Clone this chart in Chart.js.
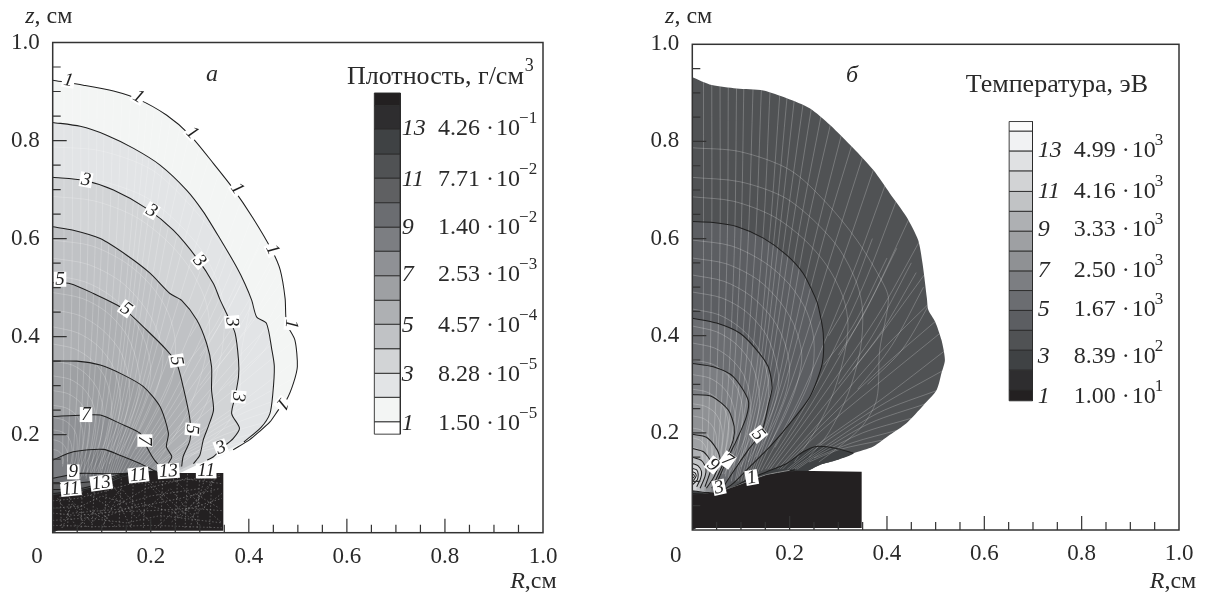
<!DOCTYPE html>
<html>
<head>
<meta charset="utf-8">
<title>Плотность и температура</title>
<script src="https://cdn.jsdelivr.net/npm/chart.js@4/dist/chart.umd.min.js"></script>
<style>
    html,body{margin:0;padding:0;background:#fff;overflow:hidden;}
    canvas{position:absolute;top:0;}
    #densityChart{left:0;}
    #temperatureChart{left:604px;}
</style>
</head>
<body>
<canvas id="densityChart" width="604" height="597"></canvas>
<canvas id="temperatureChart" width="604" height="597"></canvas>
<script>
// axis ticks
const majorTicks=[0.2,0.4,0.6,0.8];
const minorTicks=[0.05,0.1,0.15,0.25,0.3,0.35,0.45,0.5,0.55,0.65,0.7,0.75,0.85,0.9,0.95];

// ------------------------ density contours (R, z) ------------------------
const densityContour1=[[0,.923],[.0625,.913],[.124,.901],[.175,.884],[.232,.852],[.28,.811],[.328,.753],[.368,.702],[.409,.641],[.447,.576],[.464,.536],[.474,.478],[.477,.427],[.494,.393],[.499,.339],[.491,.305],[.477,.271],[.46,.25],[.443,.226],[.42,.205],[.402,.19],[.368,.169]];
const densityEdgeTail=[[.334,.152],[.3,.141],[.266,.135],[.253,.131],[.253,.12]];
const densityContour2=[[0,.837],[.056,.829],[.11,.811],[.165,.784],[.219,.75],[.273,.699],[.307,.655],[.341,.6],[.375,.542],[.392,.508],[.406,.474],[.416,.44],[.436,.427],[.447,.373],[.452,.339],[.449,.284],[.443,.243],[.425,.215],[.39,.185]];
const densityContour3=[[0,.725],[.0625,.719],[.124,.699],[.192,.661],[.246,.617],[.294,.56],[.328,.508],[.341,.476],[.358,.44],[.372,.407],[.379,.352],[.379,.318],[.372,.277],[.365,.243],[.381,.213],[.368,.192],[.348,.175],[.328,.155],[.315,.148]];
const densityContour4=[[0,.624],[.042,.617],[.097,.6],[.151,.566],[.199,.529],[.239,.488],[.263,.474],[.294,.434],[.314,.386],[.324,.339],[.324,.291],[.328,.25],[.317,.216],[.307,.189],[.3,.158],[.287,.141]];
const densityContour5=[[0,.51],[.036,.508],[.083,.488],[.144,.457],[.192,.413],[.232,.373],[.253,.345],[.266,.298],[.28,.23],[.28,.189],[.266,.155],[.263,.135]];
const densityContour6=[[0,.35],[.049,.35],[.097,.342],[.144,.322],[.185,.298],[.219,.257],[.236,.203],[.232,.175],[.243,.155],[.236,.141],[.243,.134]];
const densityContour7=[[0,.237],[.063,.24],[.097,.24],[.137,.223],[.178,.203],[.192,.175],[.205,.152],[.219,.135],[.225,.13]];
const densityContour8=[[0,.148],[.042,.165],[.103,.17],[.137,.158],[.178,.141],[.212,.124]];
const densityContour9=[[0,.111],[.056,.121],[.117,.12],[.165,.121],[.212,.124]];
const densityContour10=[[0,.102],[.056,.102],[.097,.107],[.144,.12],[.212,.126]];
const densityContour11=[[0,.088],[.056,.09],[.097,.101],[.144,.118],[.212,.125]];
const densityContour12=[[0,.08],[.056,.086],[.097,.097],[.144,.116],[.212,.124]];
const densityLevelColors=["#e2e4e6","#d2d4d6","#c0c2c5","#aeb0b3","#9ea0a3","#8f9195","#7c7e82","#6b6d71","#5f6062","#505254","#3f4244"];
const densityOuterColor="#f3f5f4";
const densityBlock=[[0,.077],[.056,.084],[.097,.094],[.144,.114],[.212,.124],[.253,.122],[.348,.122],[.348,.004],[0,.004]];
const densityBlockNoise=[
    [[.01,.07],[.05,.01],[.09,.05],[.13,.01]],[[.03,.075],[.08,.02],[.14,.09],[.2,.02]],
    [[0,.05],[.06,.055],[.1,.03],[.18,.06],[.25,.04],[.345,.07]],[[0,.025],[.07,.03],[.15,.02],[.22,.035],[.345,.02]],
    [[.12,.1],[.17,.03],[.24,.09],[.3,.015]],[[.18,.115],[.26,.03],[.33,.11]],
    [[.07,.08],[.12,.05],[.19,.09],[.27,.11],[.345,.1]],[[.21,.01],[.29,.08],[.34,.05]],
    [[.02,.01],[.04,.06],[.07,.01]],[[.24,.115],[.3,.06],[.345,.02]],
    [[.1,.01],[.13,.07],[.16,.01]],[[.28,.01],[.31,.11]],[[.04,.04],[.16,.05],[.26,.07],[.34,.09]],
    [[0,.065],[.05,.07],[.09,.08],[.16,.1],[.24,.105],[.345,.115]],[[0,.04],[.05,.035],[.12,.042],[.2,.045],[.28,.05],[.345,.045]],
    [[0,.015],[.1,.012],[.2,.015],[.345,.01]],[[.015,.075],[.018,.01]],[[.035,.08],[.03,.01]],[[.06,.085],[.058,.01]],
    [[.085,.09],[.08,.01]],[[.11,.1],[.105,.01]],[[.14,.11],[.135,.01]],[[.165,.118],[.16,.01]],[[.19,.12],[.185,.01]],
    [[.225,.12],[.22,.01]],[[.255,.12],[.25,.01]],[[.275,.12],[.27,.01]],[[.3,.12],[.295,.01]],[[.325,.12],[.32,.01]],
    [[.34,.12],[.3,.07],[.24,.02]],[[.2,.1],[.28,.03],[.345,.08]],[[.05,.05],[.1,.075],[.15,.06],[.2,.075],[.3,.09]]
];
const densityLegendEdges=[.897,.871,.823,.772,.723,.673,.623,.574,.524,.474,.425,.375,.325,.276,.226,.201];
const densityLegendColors=["#232021","#2e2d2f","#3f4244","#505254","#5f6062","#6b6d71","#7c7e82","#8f9195","#9ea0a3","#aeb0b3","#c0c2c5","#d2d4d6","#e2e4e6","#f3f5f4","#ffffff"];
const densityLegendNumbers=["13","11","9","7","5","3","1"];
const densityLegendMantissa=["4.26","7.71","1.40","2.53","4.57","8.28","1.50"];
const densityLegendExponent=["−1","−2","−2","−3","−4","−5","−5"];
const densityLegendRows=[.824,.72,.622,.526,.422,.322,.222];
const densityContourLabels=[
    ["1",.032,.923,10],["1",.175,.89,30],["1",.285,.816,45],["1",.377,.702,55],["1",.449,.578,65],["1",.487,.426,95],["1",.469,.262,130],
    ["3",.068,.72,10],["3",.202,.657,30],["3",.3,.555,50],["3",.366,.43,85],["3",.379,.277,95],["3",.343,.174,-20],
    ["5",.015,.517,0],["5",.15,.457,35],["5",.253,.351,80],["5",.285,.211,95],
    ["7",.068,.241,0],["7",.188,.188,90],["9",.042,.124,0],["11",.037,.09,-6],["13",.099,.102,-8],["11",.175,.118,-6],["13",.236,.126,-4],["11",.313,.126,0]
];

// ------------------------ temperature contours (R, z) ------------------------
const temperatureOuter=[[0,.932],[.04,.916],[.091,.909],[.146,.905],[.194,.889],[.242,.868],[.283,.834],[.331,.786],[.372,.741],[.406,.693],[.44,.645],[.464,.597],[.473,.549],[.482,.477],[.485,.453],[.499,.429],[.512,.391],[.519,.35],[.512,.323],[.502,.288],[.475,.257],[.44,.22],[.406,.196],[.372,.172],[.331,.158],[.297,.144],[.262,.134],[.242,.124]];
const temperatureContour4=[[0,.635],[.043,.633],[.091,.625],[.146,.601],[.194,.566],[.228,.528],[.252,.48],[.259,.46],[.269,.405],[.267,.343],[.242,.275],[.201,.22],[.16,.172],[.118,.13],[.084,.096],[.064,.082]];
const temperatureContour5=[[0,.436],[.05,.426],[.098,.405],[.132,.371],[.156,.336],[.164,.294],[.157,.26],[.143,.203],[.115,.165],[.084,.12],[.064,.089]];
const temperatureContour6=[[0,.343],[.043,.336],[.084,.316],[.115,.267],[.111,.233],[.091,.185],[.074,.151],[.047,.089]];
const temperatureContour7=[[0,.279],[.04,.275],[.074,.247],[.086,.213],[.084,.185],[.067,.144],[.04,.086]];
const temperatureContour8=[[0,.197],[.029,.191],[.051,.165],[.057,.144],[.045,.11],[.029,.086]];
const temperatureContour9=[[0,.168],[.023,.161],[.038,.141],[.038,.124],[.026,.089]];
const temperatureContour10=[[0,.15],[.019,.143],[.028,.127],[.026,.11],[.016,.086]];
const temperatureContour11=[[0,.137],[.012,.132],[.019,.12],[.017,.106],[.009,.089]];
const temperatureContour12=[[0,.127],[.009,.124],[.012,.115],[.01,.103],[0,.093]];
const temperatureContour13=[[0,.12],[.005,.118],[.008,.112],[.004,.104],[0,.101]];
const temperatureContour14=[[0,.116],[.003,.114],[.004,.11],[0,.106]];
const temperatureLevelColors=["#5c5e62","#6b6d71","#7c7e82","#8f9194","#9ea0a3","#aeb0b3","#c1c3c5","#d2d3d5","#e0e1e3","#f1f2f3","#fcfcfc"];
const temperatureOuterColor="#505254";
const temperatureContour3=[[.331,.158],[.297,.168],[.255,.172],[.228,.161],[.194,.137],[.153,.12],[.112,.103],[.071,.082],[.029,.077],[0,.081]];
const temperatureTail3=[[.242,.124],[.262,.134],[.297,.144]];
const temperatureContour2=[[.211,.124],[.166,.115],[.112,.097],[.077,.081],[.029,.074],[0,.075]];
const temperatureContour1=[[.2,.123],[.15,.113],[.1,.094],[.06,.08],[.02,.073]];
const temperatureInnerColors=["#3f4244","#2e2d2f"];
const temperatureBlock=[[0,.072],[.057,.079],[.098,.093],[.153,.113],[.214,.122],[.348,.12],[.348,.004],[0,.004]];
const temperatureLegendEdges=[.841,.821,.78,.739,.697,.656,.615,.574,.533,.493,.452,.411,.37,.329,.288,.266];
const temperatureLegendColors=["#fcfcfc","#f1f2f3","#e0e1e3","#d2d3d5","#c1c3c5","#aeb0b3","#9ea0a3","#8f9194","#7c7e82","#6b6d71","#5c5e62","#505254","#3f4244","#2e2d2f","#232021"];
const temperatureLegendNumbers=["13","11","9","7","5","3","1"];
const temperatureLegendMantissa=["4.99","4.16","3.33","2.50","1.67","8.39","1.00"];
const temperatureLegendExponent=["3","3","3","3","3","2","1"];
const temperatureLegendRows=[.781,.697,.618,.534,.453,.356,.274];
const temperatureContourLabels=[["5",.136,.197,50],["7",.072,.144,35],["9",.043,.134,40],["3",.055,.088,-12],["1",.122,.108,-10]];

// ------------------------ computational mesh seen under the fills ------------------------
const meshArcs=[
    [[0,.787],[.098,.779],[.201,.741],[.276,.673],[.338,.597],[.392,.508],[.403,.474],[.385,.37],[.379,.27],[.35,.215],[.3,.17],[.26,.14]],
    [[0,.726],[.098,.717],[.187,.686],[.249,.638],[.303,.577],[.338,.508],[.35,.45],[.345,.37],[.32,.28],[.28,.2],[.24,.15]],
    [[0,.686],[.084,.677],[.166,.646],[.228,.6],[.276,.545],[.31,.479],[.32,.42],[.31,.35],[.285,.27],[.25,.2],[.21,.14]],
    [[0,.597],[.08,.585],[.15,.55],[.2,.505],[.235,.45],[.25,.39],[.245,.32],[.215,.25],[.17,.17]],
    [[0,.56],[.07,.548],[.135,.515],[.18,.47],[.21,.42],[.225,.36],[.215,.3],[.19,.235],[.15,.16]],
    [[0,.525],[.065,.512],[.12,.482],[.165,.435],[.19,.385],[.2,.33],[.19,.275],[.165,.215],[.13,.15]],
    [[0,.49],[.06,.478],[.11,.45],[.15,.405],[.17,.355],[.178,.305],[.168,.255],[.145,.2],[.115,.14]],
    [[0,.455],[.055,.443],[.1,.415],[.135,.375],[.152,.33],[.157,.285],[.148,.235],[.127,.185],[.1,.13]],
    [[0,.42],[.05,.408],[.09,.383],[.12,.345],[.135,.3],[.138,.26],[.13,.215],[.11,.17],[.088,.125]],
    [[0,.385],[.045,.375],[.08,.352],[.105,.32],[.118,.28],[.12,.24],[.112,.2],[.096,.16],[.078,.12]],
    [[0,.35],[.04,.342],[.07,.322],[.092,.292],[.102,.258],[.102,.222],[.096,.185],[.08,.145],[.066,.115]],
    [[0,.32],[.035,.313],[.062,.295],[.08,.268],[.088,.236],[.087,.205],[.08,.17],[.066,.135],[.056,.11]],
    [[0,.29],[.03,.284],[.054,.268],[.068,.245],[.075,.215],[.073,.187],[.066,.157],[.054,.125],[.047,.105]],
    [[0,.26],[.026,.255],[.046,.242],[.058,.22],[.062,.195],[.06,.17],[.054,.145],[.044,.115]],
    [[0,.235],[.022,.23],[.038,.218],[.048,.2],[.05,.178],[.048,.155],[.04,.125]],
    [[0,.21],[.018,.206],[.031,.196],[.038,.18],[.04,.16],[.036,.135]],
    [[0,.19],[.014,.186],[.024,.177],[.03,.163],[.03,.145]],
    [[0,.17],[.011,.167],[.018,.16],[.022,.148],[.02,.135]]
];
const meshRays=[
    [[.023,.94],[.023,.6],[.022,.3],[.02,.14]],[[.04,.93],[.04,.6],[.036,.3],[.03,.14]],
    [[.057,.925],[.057,.6],[.05,.3],[.04,.13]],[[.074,.92],[.072,.6],[.062,.3],[.05,.125]],
    [[.091,.92],[.087,.6],[.074,.3],[.056,.12]],[[.106,.92],[.1,.6],[.084,.3],[.062,.115]],
    [[.125,.915],[.115,.6],[.096,.3],[.068,.11]],[[.142,.91],[.13,.6],[.106,.3],[.074,.105]],
    [[.16,.91],[.145,.6],[.116,.3],[.08,.1]],[[.18,.9],[.16,.62],[.128,.3],[.088,.1]],
    [[.195,.895],[.17,.62],[.134,.3],[.091,.1]],[[.21,.89],[.18,.62],[.14,.3],[.094,.1]],
    [[.228,.88],[.192,.62],[.148,.3],[.1,.1]],[[.245,.87],[.205,.62],[.155,.3],[.105,.1]],
    [[.265,.855],[.22,.62],[.165,.3],[.11,.105]],[[.285,.84],[.235,.62],[.175,.3],[.115,.11]],
    [[.308,.82],[.252,.6],[.182,.3],[.12,.112]],[[.33,.8],[.27,.6],[.19,.3],[.125,.115]],
    [[.352,.775],[.29,.58],[.2,.295],[.13,.118]],[[.375,.75],[.31,.56],[.21,.29],[.135,.12]],
    [[.398,.715],[.33,.53],[.225,.28],[.142,.122]],[[.42,.68],[.35,.5],[.24,.27],[.15,.125]],
    [[.445,.64],[.365,.47],[.245,.26],[.155,.125]],[[.47,.6],[.38,.44],[.25,.25],[.16,.125]],
    [[.48,.53],[.385,.4],[.255,.235],[.168,.125]],[[.49,.47],[.39,.37],[.26,.22],[.175,.125]],
    [[.5,.43],[.385,.33],[.26,.21],[.18,.125]],[[.515,.41],[.38,.3],[.26,.2],[.185,.125]],
    [[.52,.37],[.39,.27],[.27,.185],[.195,.125]],[[.518,.33],[.385,.255],[.268,.178],[.2,.125]],
    [[.51,.29],[.38,.24],[.27,.17],[.205,.125]],[[.48,.26],[.365,.22],[.265,.162],[.21,.125]],
    [[.45,.23],[.35,.2],[.26,.155],[.215,.125]],[[.42,.205],[.33,.18],[.25,.148]],
    [[.39,.185],[.3,.165],[.24,.14]],
    [[.27,.34],[.33,.42],[.4,.56]],[[.3,.3],[.37,.4],[.45,.55]],[[.34,.29],[.41,.38],[.475,.5]],
    [[.28,.4],[.32,.47],[.37,.6]],[[.3,.36],[.35,.44],[.42,.58]],[[.33,.33],[.39,.41],[.46,.53]],[[.36,.3],[.43,.37],[.49,.47]]
];

function toPoints(pairs) {
    return pairs.map(p=>({x:p[0],y:p[1]}));
}

function fillDataset(pairs,color,tension=.25) {
    return {data:toPoints(pairs),showLine:true,pointRadius:0,borderColor:"transparent",tension,regionColor:color,closeAtOrigin:true};
}

function strokeDataset(pairs,color="#1f1f1f",width=1.05) {
    return {data:toPoints(pairs),showLine:true,pointRadius:0,borderColor:color,borderWidth:width,tension:.25};
}

function meshDataset(pairs,color,width=.7) {
    return {data:toPoints(pairs),showLine:true,pointRadius:0,borderColor:color,borderWidth:width,tension:.3,clipToFirst:true};
}

function legendDatasets(edges,colors,R0,R1) {
    return colors.map((color,i)=>({
        data:toPoints([[R0,edges[i]],[R1,edges[i]],[R1,edges[i+1]],[R0,edges[i+1]],[R0,edges[i]]]),
        showLine:true,pointRadius:0,borderColor:"#2b2b2b",borderWidth:.9,tension:0,regionColor:color
    }));
}

function traceLine(chart,meta) {
    meta.dataset.updateControlPoints(chart.chartArea,"x");
    meta.dataset.path(chart.ctx);
}

// fills the closed outline of a dataset, the filler plugin does not cope with curves that turn back on x
const regionPlugin={
    id:"regionPlugin",
    beforeDatasetDraw(chart,args) {
        const ds=chart.data.datasets[args.index];
        const ctx=chart.ctx;
        if(ds.regionColor){
            ctx.save();
            ctx.beginPath();
            traceLine(chart,args.meta);
            if(ds.closeAtOrigin){
                ctx.lineTo(chart.scales.x.getPixelForValue(0),chart.scales.y.getPixelForValue(0));
            }
            ctx.closePath();
            ctx.fillStyle=ds.regionColor;
            ctx.fill();
            ctx.restore();
        }
        if(ds.clipToFirst){
            ctx.save();
            ctx.beginPath();
            traceLine(chart,chart.getDatasetMeta(0));
            ctx.lineTo(chart.scales.x.getPixelForValue(0),chart.scales.y.getPixelForValue(0));
            ctx.closePath();
            ctx.clip();
        }
    },
    afterDatasetDraw(chart,args) {
        if(chart.data.datasets[args.index].clipToFirst){
            chart.ctx.restore();
        }
    }
};

const serif='"Liberation Serif"';

function putText(chart,text,R,z,font,align="left") {
    const ctx=chart.ctx;
    ctx.font=font;
    ctx.textAlign=align;
    ctx.textBaseline="middle";
    ctx.fillStyle="#2a2a2a";
    const x=chart.scales.x.getPixelForValue(R);
    const y=chart.scales.y.getPixelForValue(z);
    ctx.fillText(text,x,y);
    return x+ctx.measureText(text).width;
}

// box, inner ticks, contour numbers and all the notes written on the plot
const annotationPlugin={
    id:"annotationPlugin",
    afterDatasetsDraw(chart,args,opts) {
        const ctx=chart.ctx;
        const {x,y}=chart.scales;
        const area=chart.chartArea;

        opts.contourLabels.forEach(([text,R,z,angle])=>{
            ctx.save();
            ctx.translate(x.getPixelForValue(R),y.getPixelForValue(z));
            ctx.rotate(angle*Math.PI/180);
            ctx.font=`italic 19px ${serif}`;
            ctx.textAlign="center";
            ctx.textBaseline="middle";
            const w=ctx.measureText(text).width+3;
            ctx.fillStyle="#fff";
            ctx.fillRect(-w/2,-7.5,w,15);
            ctx.fillStyle="#1f1f1f";
            ctx.fillText(text,0,.5);
            ctx.restore();
        });

        ctx.save();
        ctx.strokeStyle="#333";
        ctx.lineWidth=1.5;
        ctx.strokeRect(area.left,area.top,area.right-area.left,area.bottom-area.top);
        ctx.lineWidth=1.2;
        ctx.beginPath();
        [[majorTicks,14],[minorTicks,8]].forEach(([values,len])=>{
            values.forEach(v=>{
                ctx.moveTo(x.getPixelForValue(v),area.bottom);
                ctx.lineTo(x.getPixelForValue(v),area.bottom-len);
                ctx.moveTo(area.left,y.getPixelForValue(v));
                ctx.lineTo(area.left+len,y.getPixelForValue(v));
            });
        });
        ctx.stroke();
        ctx.restore();

        const n=opts.legend;
        n.rows.forEach((z,i)=>{
            putText(chart,n.numbers[i],n.numberR,z,`italic 24px ${serif}`);
            const left=n.mantissaR;
            const xStep=1/(x.getPixelForValue(1)-x.getPixelForValue(0));
            putText(chart,n.mantissa[i],left,z,`24px ${serif}`);
            putText(chart,"·",left+48*xStep,z,`24px ${serif}`);
            const end=putText(chart,"10",left+58*xStep,z,`24px ${serif}`);
            putText(chart,n.exponent[i],x.getValueForPixel(end-1),z+.021,`17px ${serif}`);
        });

        const title=putText(chart,opts.title[0],opts.title[1],opts.title[2],`${opts.title[3]}px ${serif}`);
        if(opts.titleExponent){
            putText(chart,opts.titleExponent,x.getValueForPixel(title+1),opts.title[2]+.021,`18px ${serif}`);
        }
        putText(chart,opts.panel[0],opts.panel[1],opts.panel[2],`italic 24px ${serif}`,"center");

        const zEnd=putText(chart,"z",opts.zLabel[0],opts.zLabel[1],`italic 24px ${serif}`);
        putText(chart,", см",x.getValueForPixel(zEnd),opts.zLabel[1],`24px ${serif}`);
        const rEnd=putText(chart,"R",opts.rLabel[0],opts.rLabel[1],`italic 24px ${serif}`);
        putText(chart,",см",x.getValueForPixel(rEnd),opts.rLabel[1],`24px ${serif}`);
        putText(chart,"0",opts.zero[0],opts.zero[1],`23px ${serif}`,"center");
    }
};

function createPanel(canvasId,box,datasets,notes) {
    datasets.forEach((ds,i)=>{ds.order=datasets.length-i;});
    return new Chart(document.getElementById(canvasId),{
        type:"scatter",
        data:{datasets},
        plugins:[regionPlugin,annotationPlugin],
        options:{
            responsive:false,
            animation:false,
            layout:{padding:{top:box.top,right:604-box.right,left:0,bottom:0}},
            plugins:{legend:{display:false},tooltip:{enabled:false},annotationPlugin:notes},
            scales:{
                x:{
                    type:"linear",min:0,max:1,
                    grid:{display:false,drawTicks:false},
                    border:{display:false},
                    ticks:{stepSize:.2,padding:10,maxRotation:0,color:"#2a2a2a",font:{family:"Liberation Serif",size:23},
                        callback:v=>v===0?"":v.toFixed(1)},
                    afterFit:s=>{s.height=597-box.bottom;}
                },
                y:{
                    type:"linear",min:0,max:1,
                    grid:{display:false,drawTicks:false},
                    border:{display:false},
                    ticks:{stepSize:.2,padding:13,color:"#2a2a2a",font:{family:"Liberation Serif",size:23},
                        callback:v=>v===0?"":v.toFixed(1)},
                    afterFit:s=>{s.width=box.left;}
                }
            }
        }
    });
}

const densityFills=[densityContour2,densityContour3,densityContour4,densityContour5,densityContour6,densityContour7,densityContour8,densityContour9,densityContour10,densityContour11,densityContour12];

createPanel("densityChart",{left:52.7,right:543,top:42.5,bottom:532.7},[
    fillDataset([...densityContour1,...densityEdgeTail],densityOuterColor),
    ...densityFills.map((c,i)=>fillDataset(c,densityLevelColors[i])),
    ...meshArcs.map(c=>meshDataset(c,"rgba(255,255,255,.3)",.7)),
    ...meshRays.map(c=>meshDataset(c,"rgba(255,255,255,.3)",.7)),
    strokeDataset(densityContour1),
    ...densityFills.map(c=>strokeDataset(c)),
    fillDataset(densityBlock,"#232021",0),
    ...densityBlockNoise.map(c=>({...strokeDataset(c,"rgba(190,190,190,.38)",1),tension:0,borderDash:[1.5,2]})),
    ...legendDatasets(densityLegendEdges,densityLegendColors,.656,.709)
],{
    contourLabels:densityContourLabels,
    legend:{rows:densityLegendRows,numbers:densityLegendNumbers,mantissa:densityLegendMantissa,exponent:densityLegendExponent,numberR:.712,mantissaR:.786},
    title:["Плотность, г/см",.6,.93,26],
    titleExponent:"3",
    panel:["а",.325,.934],
    zLabel:[-.056,1.052],
    rLabel:[.933,-.1],
    zero:[-.032,-.05]
});

const temperatureFills=[temperatureContour4,temperatureContour5,temperatureContour6,temperatureContour7,temperatureContour8,temperatureContour9,temperatureContour10,temperatureContour11,temperatureContour12,temperatureContour13,temperatureContour14];

createPanel("temperatureChart",{left:88.3,right:575,top:44.3,bottom:530},[
    fillDataset(temperatureOuter,temperatureOuterColor),
    ...temperatureFills.map((c,i)=>fillDataset(c,temperatureLevelColors[i])),
    fillDataset([...temperatureTail3,...temperatureContour3],temperatureInnerColors[0]),
    fillDataset(temperatureContour2,temperatureInnerColors[1]),
    ...meshArcs.map(c=>meshDataset(c,"rgba(255,255,255,.33)",.7)),
    ...meshRays.map(c=>meshDataset(c,"rgba(255,255,255,.33)",.7)),
    ...temperatureFills.map(c=>strokeDataset(c)),
    strokeDataset(temperatureContour3),
    strokeDataset(temperatureContour2),
    strokeDataset(temperatureContour1,"#8c8c8c",1),
    fillDataset(temperatureBlock,"#232021",0),
    ...legendDatasets(temperatureLegendEdges,temperatureLegendColors,.651,.699)
],{
    contourLabels:temperatureContourLabels,
    legend:{rows:temperatureLegendRows,numbers:temperatureLegendNumbers,mantissa:temperatureLegendMantissa,exponent:temperatureLegendExponent,numberR:.71,mantissaR:.784},
    title:["Температура, эВ",.562,.915,26],
    panel:["б",.328,.936],
    zLabel:[-.056,1.056],
    rLabel:[.94,-.107],
    zero:[-.034,-.053]
});
</script>
</body>
</html>
